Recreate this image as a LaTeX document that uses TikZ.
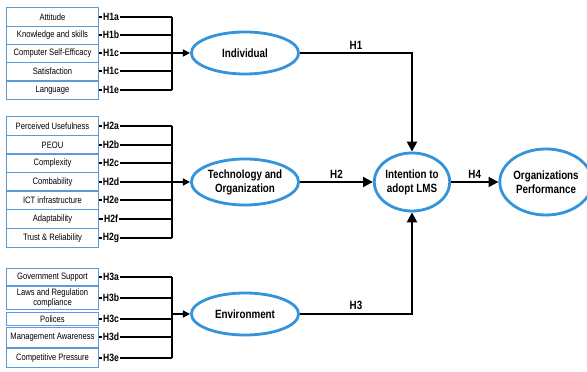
\documentclass[tikz,border=0pt]{standalone}
\usepackage{fontspec}
\setmainfont{Liberation Sans}
\newfontfamily\narrowfont[FakeStretch=0.82]{Liberation Sans}
\usetikzlibrary{arrows.meta,positioning,shapes.geometric}

\definecolor{boxblue}{RGB}{91,155,213}
\definecolor{ringblue}{RGB}{52,148,219}

\tikzset{
  factor/.style={draw=boxblue, line width=0.7pt, minimum width=2.275cm, inner sep=0pt,
    align=center, font=\narrowfont\fontsize{6.6}{7}\selectfont},
  construct/.style={ellipse, draw=ringblue, line width=2pt, inner sep=0pt, align=center,
    font=\narrowfont\bfseries\fontsize{8.5}{10}\selectfont},
  hlabel/.style={fill=white, inner sep=0.5pt, font=\narrowfont\bfseries\fontsize{7.5}{8}\selectfont},
  pathlabel/.style={above, inner sep=2pt, font=\narrowfont\bfseries\fontsize{8.5}{10}\selectfont},
  link/.style={line width=1pt},
  mainlink/.style={line width=1.6pt},
  tip/.style={-{Triangle[length=5pt,width=5pt]}},
  bigtip/.style={-{Triangle[length=7pt,width=7pt]}}
}

\begin{document}
\begin{tikzpicture}[x=0.025cm, y=-0.025cm]
    \useasboundingbox (0,0) rectangle (587,372);

    % Constructs
    \node[construct, minimum width=2.68cm, minimum height=1.05cm] (ind) at (245,53) {Individual};
    \node[construct, minimum width=2.68cm, minimum height=1.15cm] (tech) at (245,182) {Technology and\\Organization};
    \node[construct, minimum width=2.68cm, minimum height=1.05cm] (env) at (245,314) {Environment};
    \node[construct, minimum width=1.8cm, minimum height=1.45cm] (lms) at (412,182) {Intention to\\adopt LMS};
    \node[construct, minimum width=1.95cm, minimum height=1.65cm] (perf) at (546,182) {Organizations\\Performance};

    % Individual factors
    \foreach \y/\txt/\h/\nm in {17/Attitude/H1a/a1, 35/Knowledge and skills/H1b/a2,
        53/Computer Self-Efficacy/H1c/a3, 71/Satisfaction/H1c/a4, 90/Language/H1e/a5}{
      \node[factor, minimum height=0.45cm] (\nm) at (52.5,\y) {\txt};
      \coordinate (\nm bus) at (172,\y);
      \draw[link] (\nm.east) -- node[hlabel, pos=0.17] {\h} (\nm bus);
    }
    \draw[link] (a1bus) -- (a5bus);
    \draw[link, tip] (a3bus) -- (ind.west);

    % Technology and organization factors
    \foreach \y/\txt/\h/\nm in {126/Perceived Usefulness/H2a/b1, 145/PEOU/H2b/b2,
        163/Complexity/H2c/b3, 182/Combability/H2d/b4, 200/ICT infrastructure/H2e/b5,
        219/Adaptability/H2f/b6, 238/Trust \& Reliability/H2g/b7}{
      \node[factor, minimum height=0.46cm] (\nm) at (52.5,\y) {\txt};
      \coordinate (\nm bus) at (172,\y);
      \draw[link] (\nm.east) -- node[hlabel, pos=0.17] {\h} (\nm bus);
    }
    \draw[link] (b1bus) -- (b7bus);
    \draw[link, tip] (b4bus) -- (tech.west);

    % Environment factors
    \foreach \y/\hh/\txt/\h/\nm in {277/0.43/Government Support/H3a/c1,
        298/0.58/{Laws and Regulation\\compliance}/H3b/c2, 319/0.33/Polices/H3c/c3,
        337/0.5/Management Awareness/H3d/c4, 358/0.46/Competitive Pressure/H3e/c5}{
      \node[factor, minimum height=\hh cm] (\nm) at (52.5,\y) {\txt};
      \coordinate (\nm bus) at (172,\y);
      \draw[link] (\nm.east) -- node[hlabel, pos=0.17] {\h} (\nm bus);
    }
    \draw[link] (c1bus) -- (c5bus);
    \draw[link, tip] (c1bus |- env.west) -- (env.west);

    % Hypotheses
    \draw[mainlink, bigtip] (ind.east) -| node[pathlabel, pos=0.25] {H1} (lms.north);
    \draw[mainlink, bigtip] (tech.east) -- node[pathlabel] {H2} (lms.west);
    \draw[mainlink, bigtip] (env.east) -| node[pathlabel, pos=0.25] {H3} (lms.south);
    \draw[mainlink, bigtip] (lms.east) -- node[pathlabel] {H4} (perf.west);
\end{tikzpicture}
\end{document}
